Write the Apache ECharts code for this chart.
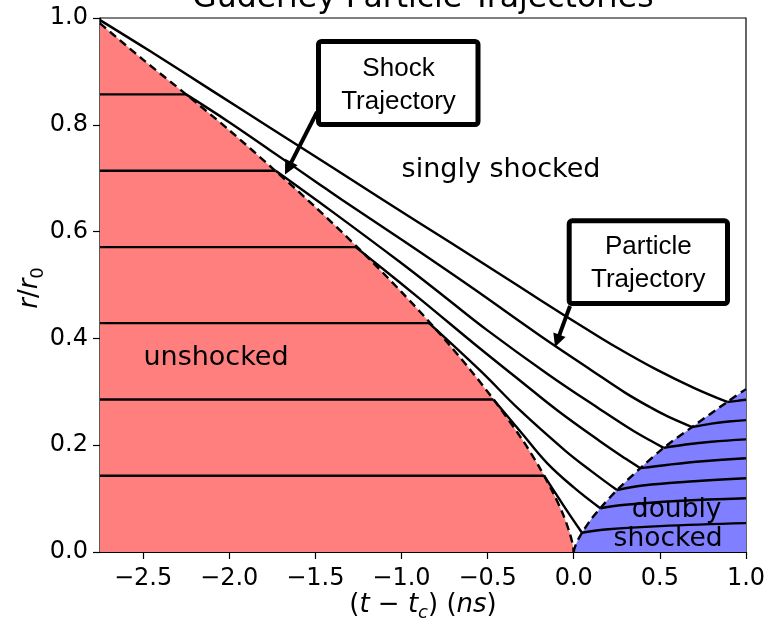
<!DOCTYPE html>
<html><head><meta charset="utf-8">
<script src="https://cdn.jsdelivr.net/npm/echarts@6/dist/echarts.min.js"></script>
<style>html,body{margin:0;padding:0;background:#fff}#c{width:767px;height:622px}</style>
</head><body><div id="c"></div>
<script>
// ---- data ----
const xTicks = [-2.5, -2.0, -1.5, -1.0, -0.5, 0.0, 0.5, 1.0];
const yTicks = [0.0, 0.2, 0.4, 0.6, 0.8, 1.0];
const xMin = -2.75, xMax = 1.0;

// converging (incoming) shock trajectory
const shockT = [-2.75, -2.5, -2.25, -2.0, -1.75, -1.5, -1.25, -1.0, -0.8, -0.6, -0.45, -0.3, -0.2, -0.12, -0.06, -0.025, -0.008, -0.002, 0];
const shockR = [0.99, 0.922, 0.857, 0.79, 0.719, 0.646, 0.569, 0.487, 0.417, 0.341, 0.279, 0.211, 0.159, 0.111, 0.069, 0.037, 0.017, 0.0064, 0];

// reflected shock trajectory
const reflT = [0, 0.002, 0.01, 0.03, 0.048, 0.1, 0.154, 0.251, 0.387, 0.522, 0.687, 0.891, 1.0];
const reflR = [0, 0.004, 0.012, 0.026, 0.036, 0.061, 0.082, 0.116, 0.157, 0.195, 0.234, 0.281, 0.305];

// particle initial radii and shock arrival times
const startR  = [0.996, 0.857, 0.714, 0.571, 0.4286, 0.2857, 0.1429];
const arriveT = [-2.75, -2.25, -1.73, -1.265, -0.84, -0.466, -0.172];

// singly shocked paths [t, r]
const single1 = [[-2.75,0.996],[-2.46,0.938],[-2.1,0.864],[-1.765,0.795],[-1.4,0.72],[-1.106,0.659],[-0.718,0.58],[-0.45,0.525],[-0.195,0.472],[0.057,0.421],[0.25,0.383],[0.484,0.341],[0.7,0.307],[0.891,0.281]];
const single2 = [[-2.25,0.857],[-2.0,0.805],[-1.765,0.753],[-1.5,0.694],[-1.348,0.66],[-1.009,0.587],[-0.6,0.497],[-0.195,0.405],[0.1,0.341],[0.3,0.298],[0.45,0.27],[0.542,0.2545],[0.687,0.234]];
const single3 = [[-1.73,0.714],[-1.4,0.637],[-1.009,0.543],[-0.75,0.478],[-0.505,0.416],[-0.15,0.333],[0.154,0.267],[0.35,0.226],[0.45,0.208],[0.522,0.195]];
const single4 = [[-1.265,0.571],[-0.9,0.476],[-0.544,0.381],[-0.3,0.318],[-0.098,0.266],[0.15,0.208],[0.3,0.175],[0.387,0.157]];
const single5 = [[-0.84,0.4286],[-0.544,0.34],[-0.311,0.265],[-0.05,0.19],[0.1,0.152],[0.251,0.116]];
const single6 = [[-0.466,0.2857],[-0.3,0.222],[-0.156,0.167],[0.0,0.121],[0.154,0.082]];
const single7 = [[-0.172,0.1429],[-0.059,0.087],[0.048,0.036]];

// doubly shocked paths [t, r]
const double1 = [[0.891,0.281],[0.95,0.283],[1.0,0.285]];
const double2 = [[0.687,0.234],[0.8,0.2405],[0.9,0.2445],[1.0,0.247]];
const double3 = [[0.522,0.195],[0.65,0.2013],[0.8,0.2065],[1.0,0.211]];
const double4 = [[0.387,0.157],[0.55,0.1635],[0.75,0.17],[1.0,0.1756]];
const double5 = [[0.251,0.116],[0.4,0.1245],[0.7,0.1325],[1.0,0.138]];
const double6 = [[0.154,0.082],[0.3,0.0885],[0.6,0.0955],[1.0,0.1006]];
const double7 = [[0.048,0.036],[0.2,0.0425],[0.5,0.0485],[1.0,0.054]];

// ---- chart ----
const FONT = 'DejaVu Sans';
const BOXFONT = 'Liberation Sans';
const LW = 2.4;
const SM = 0.4;
const pair = (ts, rs) => ts.map((t, i) => [t, rs[i]]);
const singles = [single1, single2, single3, single4, single5, single6, single7];
const doubles = [double1, double2, double3, double4, double5, double6, double7];

const series = [];
const base = {type: 'line', symbol: 'none', silent: true, animation: false};
series.push(Object.assign({}, base, {data: pair(shockT, shockR), smooth: 0.3,
  lineStyle: {width: 0, opacity: 0}, areaStyle: {color: '#ff7f7f', opacity: 1}, z: 1}));
series.push(Object.assign({}, base, {data: pair(reflT, reflR), smooth: 0.3,
  lineStyle: {width: 0, opacity: 0}, areaStyle: {color: '#7f7fff', opacity: 1}, z: 1}));
startR.forEach((r0, i) => {
  if (arriveT[i] > xMin) {
    series.push(Object.assign({}, base, {data: [[xMin, r0], [arriveT[i], r0]],
      lineStyle: {color: '#000', width: LW}, z: 3}));
  }
  series.push(Object.assign({}, base, {data: singles[i], smooth: SM,
    lineStyle: {color: '#000', width: LW}, z: 3}));
  series.push(Object.assign({}, base, {data: doubles[i], smooth: SM,
    lineStyle: {color: '#000', width: LW}, z: 3}));
});
series.push(Object.assign({}, base, {data: pair(shockT, shockR), smooth: 0.3,
  lineStyle: {color: '#000', width: LW, type: [8, 5]}, z: 4}));
series.push(Object.assign({}, base, {data: pair(reflT, reflR), smooth: 0.3,
  lineStyle: {color: '#000', width: LW, type: [8, 5]}, z: 4}));

const fmt = v => (v < 0 ? '\u2212' : '') + Math.abs(v).toFixed(1);

const txt = (x, y, text, size, family, align, extra) => Object.assign({
  type: 'text', x: x, y: y, z: 100,
  style: {text: text, fill: '#000', fontSize: size, fontFamily: family,
    textAlign: align || 'center', textVerticalAlign: 'middle', align: align || 'center', verticalAlign: 'middle'}
}, extra || {});

function arrow(x0, y0, tx, ty, headLen, headHalf) {
  const dx = tx - x0, dy = ty - y0, L = Math.hypot(dx, dy);
  const ux = dx / L, uy = dy / L, nx = -uy, ny = ux;
  const bx = tx - ux * headLen, by = ty - uy * headLen;
  return [
    {type: 'line', z: 100, shape: {x1: x0, y1: y0, x2: bx + ux * 2, y2: by + uy * 2}, style: {stroke: '#000', lineWidth: 4}},
    {type: 'polygon', z: 100, shape: {points: [[tx, ty], [bx + nx * headHalf, by + ny * headHalf], [bx - nx * headHalf, by - ny * headHalf]]}, style: {fill: '#000'}}
  ];
}

const mainRich = {
  u: {fontFamily: FONT, fontSize: 26, lineHeight: 34, fill: '#000', color: '#000'},
  i: {fontFamily: FONT, fontSize: 26, fontStyle: 'italic', lineHeight: 34, fill: '#000', color: '#000'},
  s: {fontFamily: FONT, fontSize: 18, fontStyle: 'italic', lineHeight: 18, verticalAlign: 'bottom', fill: '#000', color: '#000'},
  s0: {fontFamily: FONT, fontSize: 18, lineHeight: 18, verticalAlign: 'bottom', fill: '#000', color: '#000'}
};

const graphics = [
  txt(423, -1.5, 'Guderley Particle Trajectories', 31.5, FONT),
  {type: 'text', x: 423, y: 605, z: 100, style: {text: '{u|(}{i|t}{u| \u2212 }{i|t}{s|c}{u|) (}{i|ns}{u|)}', rich: mainRich,
    textAlign: 'center', textVerticalAlign: 'middle', align: 'center', verticalAlign: 'middle'}},
  {type: 'text', x: 30, y: 288, rotation: Math.PI / 2, z: 100, style: {text: '{i|r}{u|/}{i|r}{s0|0}', rich: mainRich,
    textAlign: 'center', textVerticalAlign: 'middle', align: 'center', verticalAlign: 'middle'}},
  txt(501, 169.5, 'singly shocked', 27, FONT),
  txt(216, 358, 'unshocked', 27, FONT),
  txt(721.5, 510.5, 'doubly', 26.5, FONT, 'right'),
  txt(722.5, 539, 'shocked', 26.5, FONT, 'right'),
  {type: 'rect', z: 99, shape: {x: 318.5, y: 41.5, width: 159.5, height: 83, r: 3}, style: {fill: '#fff', stroke: '#000', lineWidth: 5}},
  txt(398.5, 68.7, 'Shock', 26, BOXFONT),
  txt(398.5, 102, 'Trajectory', 26, BOXFONT),
  {type: 'rect', z: 99, shape: {x: 569.2, y: 220.8, width: 158.3, height: 82.7, r: 3}, style: {fill: '#fff', stroke: '#000', lineWidth: 5}},
  txt(648.3, 247, 'Particle', 26, BOXFONT),
  txt(648.3, 280, 'Trajectory', 26, BOXFONT)
].concat(arrow(317, 112, 285, 174.5, 14, 7), arrow(570, 306, 555, 347, 13, 6.5));

const option = {
  animation: false,
  backgroundColor: '#fff',
  grid: {left: 100, right: 21, top: 18, bottom: 70, show: true, borderColor: '#000', borderWidth: 1.2,
    backgroundColor: 'transparent', containLabel: false, outerBoundsMode: 'none'},
  xAxis: {
    type: 'value', min: xMin, max: xMax,
    axisLine: {show: true, onZero: false, lineStyle: {color: '#000', width: 1.2}},
    axisTick: {show: true, length: 7, inside: false, customValues: xTicks, lineStyle: {color: '#000', width: 1.2}},
    axisLabel: {customValues: xTicks, formatter: fmt, fontFamily: FONT, fontSize: 24, color: '#000', margin: 15},
    splitLine: {show: false}
  },
  yAxis: {
    type: 'value', min: 0, max: 1,
    axisLine: {show: true, onZero: false, lineStyle: {color: '#000', width: 1.2}},
    axisTick: {show: true, length: 7, inside: false, customValues: yTicks, lineStyle: {color: '#000', width: 1.2}},
    axisLabel: {customValues: yTicks, formatter: v => v.toFixed(1), fontFamily: FONT, fontSize: 24, color: '#000', margin: 12},
    splitLine: {show: false}
  },
  series: series,
  graphic: {elements: graphics}
};
const chart = echarts.init(document.getElementById('c'), null, {renderer: 'canvas', width: 767, height: 622});
chart.setOption(option);
</script>
</body></html>
